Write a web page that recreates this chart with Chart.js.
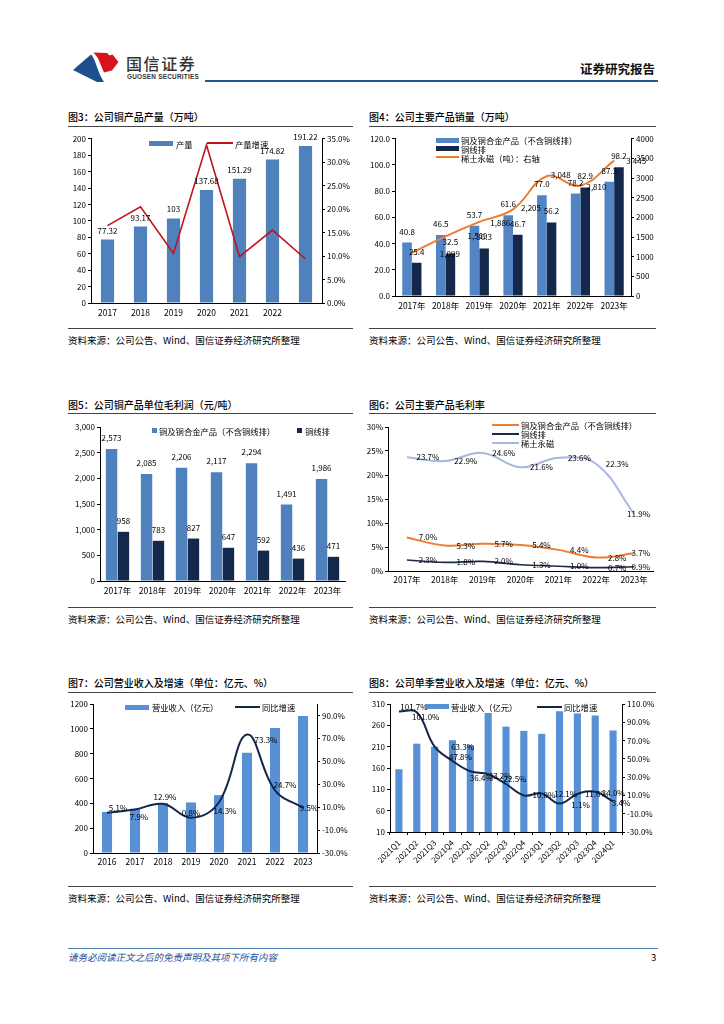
<!DOCTYPE html>
<html><head><meta charset="utf-8">
<script src="https://cdn.jsdelivr.net/npm/chart.js@4.4.1/dist/chart.umd.min.js"></script>
<style>
html,body{margin:0;padding:0;background:#fff;}
body{width:724px;height:1024px;position:relative;overflow:hidden;font-family:"Noto Sans CJK SC","DejaVu Sans",sans-serif;color:#000;}
.abs{position:absolute;white-space:nowrap;}
.title{font-size:10px;line-height:14px;font-weight:500;}
.hr{position:absolute;height:1px;background:#444;}
.src{font-size:9.5px;line-height:12px;}
.lg{font-size:8.3px;line-height:10px;}
.sw{position:absolute;}
canvas{position:absolute;}
</style></head>
<body>
<!-- header -->
<svg style="position:absolute;left:65px;top:48px" width="60" height="42" viewBox="65 48 60 42">
  <path d="M73,70 L91,54.5 C95,59 96,65 98.5,71 C100,75 102,79 104,82 L97,82 Z" fill="#1F4E8C"/>
  <path d="M93.5,52.5 L107,53 L109.5,55.5 L112.5,54.5 L118.5,62 L112,70.5 L104,72.5 C101.5,67 100,62 97.5,57.5 Z" fill="#D7141E"/>
</svg>
<div class="abs" style="left:126px;top:53px;font-size:16px;line-height:20px;letter-spacing:1.6px;color:#333;font-weight:500">国信证券</div>
<div class="abs" style="left:127px;top:73px;font-size:6.4px;line-height:8px;letter-spacing:0.25px;color:#333;font-weight:bold;font-family:'Liberation Sans','DejaVu Sans',sans-serif">GUOSEN SECURITIES</div>
<div class="abs" style="left:580px;top:61px;font-size:12.5px;line-height:16px;font-weight:bold;color:#111">证券研究报告</div>
<div class="hr" style="left:205px;top:80px;width:453px;height:2px;background:#1F5A96"></div>

<!-- row 1 -->
<div class="abs title" style="left:68px;top:110px">图3：公司铜产品产量（万吨）</div>
<div class="hr" style="left:68px;top:126px;width:285px"></div>
<div class="abs title" style="left:369px;top:110px">图4：公司主要产品销量（万吨）</div>
<div class="hr" style="left:369px;top:126px;width:287px"></div>
<canvas id="c3" width="293" height="188" style="left:62px;top:132px"></canvas>
<canvas id="c4" width="295" height="183" style="left:365px;top:132px"></canvas>
<div class="hr" style="left:68px;top:328px;width:285px"></div>
<div class="abs src" style="left:68px;top:334px">资料来源：公司公告、Wind、国信证券经济研究所整理</div>
<div class="hr" style="left:369px;top:328px;width:287px"></div>
<div class="abs src" style="left:369px;top:334px">资料来源：公司公告、Wind、国信证券经济研究所整理</div>

<!-- row 2 -->
<div class="abs title" style="left:68px;top:398px">图5：公司铜产品单位毛利润（元/吨）</div>
<div class="hr" style="left:68px;top:413px;width:285px"></div>
<div class="abs title" style="left:369px;top:398px">图6：公司主要产品毛利率</div>
<div class="hr" style="left:369px;top:413px;width:287px"></div>
<canvas id="c5" width="293" height="180" style="left:62px;top:420px"></canvas>
<canvas id="c6" width="296" height="170" style="left:362px;top:420px"></canvas>
<div class="hr" style="left:68px;top:607px;width:285px"></div>
<div class="abs src" style="left:68px;top:613px">资料来源：公司公告、Wind、国信证券经济研究所整理</div>
<div class="hr" style="left:369px;top:607px;width:287px"></div>
<div class="abs src" style="left:369px;top:613px">资料来源：公司公告、Wind、国信证券经济研究所整理</div>

<!-- row 3 -->
<div class="abs title" style="left:68px;top:676px">图7：公司营业收入及增速（单位：亿元、%）</div>
<div class="hr" style="left:68px;top:692px;width:285px"></div>
<div class="abs title" style="left:369px;top:676px">图8：公司单季营业收入及增速（单位：亿元、%）</div>
<div class="hr" style="left:369px;top:692px;width:287px"></div>
<canvas id="c7" width="293" height="174" style="left:62px;top:697px"></canvas>
<canvas id="c8" width="298" height="173" style="left:362px;top:697px"></canvas>
<div class="hr" style="left:68px;top:886px;width:285px"></div>
<div class="abs src" style="left:68px;top:892px">资料来源：公司公告、Wind、国信证券经济研究所整理</div>
<div class="hr" style="left:369px;top:886px;width:287px"></div>
<div class="abs src" style="left:369px;top:892px">资料来源：公司公告、Wind、国信证券经济研究所整理</div>

<!-- legends -->
<div class="sw" style="left:149px;top:141px;width:24px;height:5px;background:#4F81BD"></div>
<div class="abs lg" style="left:176px;top:138.5px">产量</div>
<div class="sw" style="left:207px;top:142px;width:26px;height:2px;background:#C0141C"></div>
<div class="abs lg" style="left:235px;top:138.5px">产量增速</div>

<div class="sw" style="left:436px;top:138px;width:23px;height:4.5px;background:#5384C3"></div>
<div class="abs lg" style="left:461px;top:135px">铜及铜合金产品（不含铜线排）</div>
<div class="sw" style="left:436px;top:146px;width:23px;height:4.5px;background:#14284B"></div>
<div class="abs lg" style="left:461px;top:143.5px">铜线排</div>
<div class="sw" style="left:436px;top:156px;width:23px;height:2px;background:#ED7D31"></div>
<div class="abs lg" style="left:461px;top:152.5px">稀土永磁（吨）：右轴</div>

<div class="sw" style="left:152px;top:428px;width:5px;height:5px;background:#4F81BD"></div>
<div class="abs lg" style="left:159px;top:425.5px">铜及铜合金产品（不含铜线排）</div>
<div class="sw" style="left:297px;top:428px;width:5px;height:5px;background:#14284B"></div>
<div class="abs lg" style="left:305px;top:425.5px">铜线排</div>

<div class="sw" style="left:492px;top:424px;width:27px;height:2px;background:#ED7D31"></div>
<div class="abs lg" style="left:521px;top:420px">铜及铜合金产品（不含铜线排）</div>
<div class="sw" style="left:492px;top:433px;width:27px;height:2px;background:#1C2A4A"></div>
<div class="abs lg" style="left:521px;top:429px">铜线排</div>
<div class="sw" style="left:492px;top:442px;width:27px;height:2px;background:#A7B6E3"></div>
<div class="abs lg" style="left:521px;top:438px">稀土永磁</div>

<div class="sw" style="left:125px;top:705px;width:24px;height:5px;background:#5790D5"></div>
<div class="abs lg" style="left:152px;top:702px">营业收入（亿元）</div>
<div class="sw" style="left:235px;top:706px;width:25px;height:2px;background:#14264A"></div>
<div class="abs lg" style="left:262px;top:702px">同比增速</div>

<div class="sw" style="left:425px;top:704px;width:24px;height:5px;background:#5790D5"></div>
<div class="abs lg" style="left:451px;top:701.5px">营业收入（亿元）</div>
<div class="sw" style="left:537px;top:706px;width:25px;height:2px;background:#14264A"></div>
<div class="abs lg" style="left:564px;top:701.5px">同比增速</div>

<!-- footer -->
<div class="hr" style="left:68px;top:948px;width:590px;background:#4F7FB0"></div>
<div class="abs" style="left:68px;top:951px;font-size:9.5px;line-height:12px;font-style:italic;color:#1F4E99">请务必阅读正文之后的免责声明及其项下所有内容</div>
<div class="abs" style="left:651px;top:951px;font-size:9.5px;line-height:12px">3</div>

<script>
// ---------- DATA ----------
// Fig 3
const cat3 = ['2017','2018','2019','2020','2021','2022',''];
const output3 = [77.32, 93.17, 103, 137.68, 151.29, 174.82, 191.22];
const growth3 = [16.5, 20.5, 10.55, 33.67, 9.89, 15.55, 9.38];
// Fig 4
const years = ['2017年','2018年','2019年','2020年','2021年','2022年','2023年'];
const alloySales4 = [40.8, 46.5, 53.7, 61.6, 77.0, 78.2, 87.3];
const rodSales4 = [25.4, 32.5, 36.3, 46.7, 56.2, 82.9, 98.2];
const magnetSales4 = [1099, 1519, 1886, 2205, 3048, 2810, 3445];
// Fig 5
const alloyProfit5 = [2573, 2085, 2206, 2117, 2294, 1491, 1986];
const rodProfit5 = [958, 783, 827, 647, 592, 436, 471];
// Fig 6
const alloyMargin6 = [7.0, 5.3, 5.7, 5.4, 4.4, 2.8, 3.7];
const rodMargin6 = [2.3, 1.8, 2.0, 1.3, 1.0, 0.7, 0.9];
const magnetMargin6 = [23.7, 22.9, 24.6, 21.6, 23.6, 22.3, 11.9];
// Fig 7
const cat7 = ['2016','2017','2018','2019','2020','2021','2022','2023'];
const revenue7 = [331, 356, 403, 407, 466, 808, 1006, 1103];
const yoy7 = [5.1, 7.9, 12.9, 0.8, 14.3, 73.3, 24.7, 9.5];
const rightTicks7 = [-30, -10, 10, 30, 50, 70, 90];
// Fig 8
const cat8 = ['2021Q1','2021Q2','2021Q3','2021Q4','2022Q1','2022Q2','2022Q3','2022Q4','2023Q1','2023Q2','2023Q3','2023Q4','2024Q1'];
const revenue8 = [157, 217, 210, 225, 214, 289, 257, 247, 240, 293, 288, 283, 248];
const yoy8 = [101.7, 101.0, 63.3, 47.8, 36.4, 33.2, 22.5, 10.0, 12.1, 1.1, 11.6, 14.0, 3.4];

// label placement offsets (style only)
const off4 = [[38,1],[32,0],[21,1],[18,-1],[14,-1],[16,1],[22,0]];
const off7 = [[11,-5],[4,7],[2,-7],[0,-5],[6,9],[19,5],[10,-5],[6,0]];
const off8 = [[15,-5],[9,5],[28,0],[8,-4],[11,7],[12,2],[9,-5],[20,0],[24,0],[21,1],[19,0],[18,1],[8,1]];

// ---------- STYLE ----------
const FONT = '"Noto Sans CJK SC","DejaVu Sans",sans-serif';
const TF = {size: 8, family: FONT};
Chart.defaults.font.family = FONT;
Chart.defaults.font.size = 8;
Chart.defaults.color = '#000';
Chart.defaults.animation = false;
Chart.defaults.responsive = false;
Chart.defaults.maintainAspectRatio = false;
Chart.defaults.plugins.legend.display = false;
Chart.defaults.plugins.tooltip.enabled = false;
Chart.defaults.elements.point.radius = 0;

const pct1 = v => v.toFixed(1) + '%';
const comma = v => Number(v).toLocaleString('en-US');

const labelPlugin = {
  id: 'vlabels',
  afterDatasetsDraw(chart) {
    const ctx = chart.ctx;
    chart.data.datasets.forEach((ds, di) => {
      const L = ds.lbl; if (!L) return;
      const meta = chart.getDatasetMeta(di);
      ctx.save();
      ctx.font = (L.size || 8) + 'px ' + FONT;
      ctx.fillStyle = L.color || '#000';
      ctx.textAlign = 'center'; ctx.textBaseline = 'middle';
      meta.data.forEach((el, i) => {
        const v = ds.data[i]; if (v == null) return;
        const t = L.fmt(v);
        const o = (L.off && L.off[i]) || [L.dx || 0, L.dy || 0];
        let x = el.x + o[0], y = el.y + o[1];
        if (L.clamp != null) {
          const w = ctx.measureText(t).width;
          const lim = chart.chartArea.right + L.clamp;
          if (x + w / 2 > lim) x = lim - w / 2;
        }
        ctx.fillText(t, x, y);
      });
      ctx.restore();
    });
  }
};

function yAxis(pos, min, max, step, fmt, width, ticksList) {
  const a = {
    type: 'linear', position: pos, min: min, max: max,
    ticks: {stepSize: step, callback: fmt, font: TF, color: '#000', padding: 2},
    grid: {display: true, drawOnChartArea: false, drawTicks: true, tickLength: 3, color: '#000'},
    border: {display: true, color: '#000', width: 1},
    afterFit: s => { s.width = width; }
  };
  if (ticksList) a.afterBuildTicks = s => { s.ticks = ticksList.map(v => ({value: v})); };
  return a;
}
function xAxis(height, pad, extra) {
  const a = {
    type: 'category',
    ticks: {font: {size: 8.5, family: FONT}, color: '#000', padding: pad, autoSkip: false, maxRotation: 0, minRotation: 0},
    grid: {display: true, drawOnChartArea: false, drawTicks: false, color: '#000'},
    border: {display: true, color: '#000', width: 1},
    afterFit: s => { s.height = height; }
  };
  return Object.assign(a, extra || {});
}

// ---------- Fig 3 ----------
new Chart(document.getElementById('c3'), {
  type: 'bar',
  data: {labels: cat3, datasets: [
    {type: 'line', data: growth3, yAxisID: 'y1', borderColor: '#C0141C', borderWidth: 1.6, tension: 0, order: 0},
    {type: 'bar', data: output3, yAxisID: 'y', backgroundColor: '#4F81BD', categoryPercentage: 0.8, barPercentage: 0.5, order: 1,
      lbl: {fmt: v => String(v), dy: -9}}
  ]},
  options: {layout: {padding: {top: 6}},
    scales: {x: xAxis(17, 5), y: yAxis('left', 0, 200, 20, v => v, 29), y1: yAxis('right', 0, 35, 5, pct1, 33)}},
  plugins: [labelPlugin]
});

// ---------- Fig 4 ----------
new Chart(document.getElementById('c4'), {
  type: 'bar',
  data: {labels: years, datasets: [
    {type: 'line', data: magnetSales4, yAxisID: 'y1', borderColor: '#ED7D31', borderWidth: 2, tension: 0.4, order: 0,
      lbl: {fmt: comma, off: off4}},
    {type: 'bar', data: alloySales4, yAxisID: 'y', backgroundColor: '#5384C3', categoryPercentage: 0.57, barPercentage: 1, order: 1,
      lbl: {fmt: v => v.toFixed(1), dy: -11}},
    {type: 'bar', data: rodSales4, yAxisID: 'y', backgroundColor: '#14284B', categoryPercentage: 0.57, barPercentage: 1, order: 1,
      lbl: {fmt: v => v.toFixed(1), dy: -11}}
  ]},
  options: {layout: {padding: {top: 6}},
    scales: {x: xAxis(19, 5), y: yAxis('left', 0, 120, 20, v => v.toFixed(1), 30), y1: yAxis('right', 0, 4000, 500, v => v, 29)}},
  plugins: [labelPlugin]
});

// ---------- Fig 5 ----------
new Chart(document.getElementById('c5'), {
  type: 'bar',
  data: {labels: years, datasets: [
    {data: alloyProfit5, backgroundColor: '#4F81BD', categoryPercentage: 0.68, barPercentage: 0.96, lbl: {fmt: comma, dy: -11}},
    {data: rodProfit5, backgroundColor: '#14284B', categoryPercentage: 0.68, barPercentage: 0.96, lbl: {fmt: comma, dy: -11}}
  ]},
  options: {layout: {padding: {top: 7, right: 10}},
    scales: {x: xAxis(19, 5), y: yAxis('left', 0, 3000, 500, comma, 38)}},
  plugins: [labelPlugin]
});

// ---------- Fig 6 ----------
new Chart(document.getElementById('c6'), {
  type: 'line',
  data: {labels: years, datasets: [
    {data: alloyMargin6, borderColor: '#ED7D31', borderWidth: 2, tension: 0.4, lbl: {fmt: pct1, dx: 21, clamp: -3}},
    {data: rodMargin6, borderColor: '#1C2A4A', borderWidth: 1.6, tension: 0.4, lbl: {fmt: pct1, dx: 21, clamp: -3}},
    {data: magnetMargin6, borderColor: '#A7B6E3', borderWidth: 2, tension: 0.4, lbl: {fmt: pct1, dx: 21, clamp: -3}}
  ]},
  options: {layout: {padding: {top: 7, right: 5}},
    scales: {x: xAxis(19, 4, {offset: true}), y: yAxis('left', 0, 30, 5, v => v + '%', 26)}},
  plugins: [labelPlugin]
});

// ---------- Fig 7 ----------
new Chart(document.getElementById('c7'), {
  type: 'bar',
  data: {labels: cat7, datasets: [
    {type: 'line', data: yoy7, yAxisID: 'y1', borderColor: '#14264A', borderWidth: 2, tension: 0.4, order: 0,
      lbl: {fmt: pct1, off: off7}},
    {type: 'bar', data: revenue7, yAxisID: 'y', backgroundColor: '#5790D5', categoryPercentage: 0.8, barPercentage: 0.45, order: 1}
  ]},
  options: {layout: {padding: {top: 7}},
    scales: {x: xAxis(18, 4), y: yAxis('left', 0, 1200, 200, v => v, 31),
      y1: yAxis('right', -30, 100, 20, pct1, 38, rightTicks7)}},
  plugins: [labelPlugin]
});

// ---------- Fig 8 ----------
const x8 = xAxis(38, 3);
x8.ticks.font = {size: 8, family: FONT};
x8.ticks.minRotation = 45; x8.ticks.maxRotation = 45;
x8.grid.drawTicks = true; x8.grid.tickLength = 3;
new Chart(document.getElementById('c8'), {
  type: 'bar',
  data: {labels: cat8, datasets: [
    {type: 'line', data: yoy8, yAxisID: 'y1', borderColor: '#14264A', borderWidth: 2, tension: 0.4, order: 0,
      lbl: {fmt: pct1, off: off8}},
    {type: 'bar', data: revenue8, yAxisID: 'y', backgroundColor: '#5790D5', categoryPercentage: 0.8, barPercentage: 0.5, order: 1}
  ]},
  options: {layout: {padding: {top: 7}},
    scales: {x: x8, y: yAxis('left', 10, 310, 50, v => v, 28),
      y1: yAxis('right', -30, 110, 20, pct1, 38)}},
  plugins: [labelPlugin]
});
</script>
</body></html>
